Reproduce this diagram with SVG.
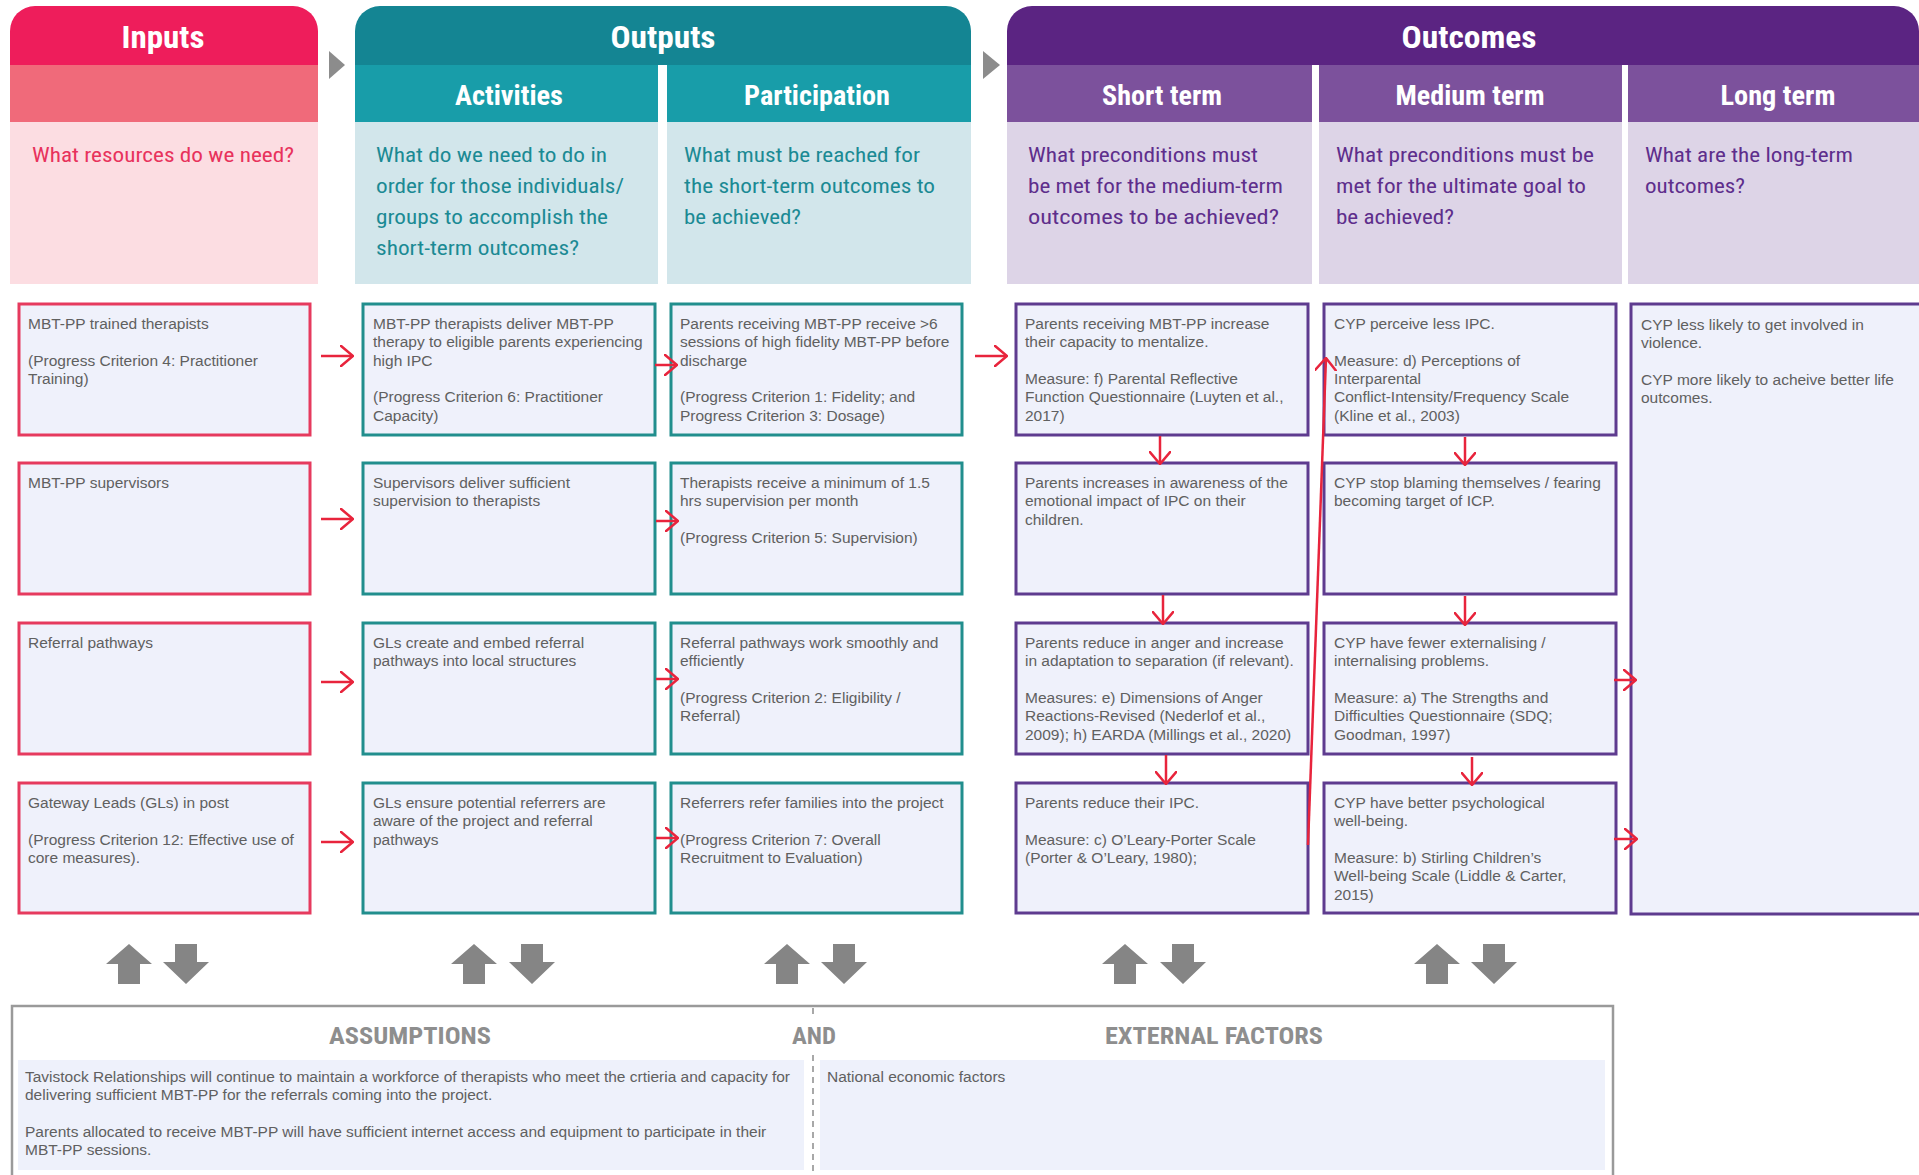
<svg xmlns="http://www.w3.org/2000/svg" width="1919" height="1175" viewBox="0 0 1919 1175">
<defs>
<style>
.title{font-family:"Roboto Condensed",Roboto,"Liberation Sans",sans-serif;font-weight:700;fill:#fff;text-anchor:middle}
.t1{font-size:31px}
.t2{font-size:28px}
.q{font-family:"Roboto Condensed",Roboto,"Liberation Sans",sans-serif;font-size:21px}
.qi{fill:#E8325C}
.qo{fill:#1B8A94}
.qc{fill:#5E2E8C}
.box{fill:#EFF1FB;stroke-width:3}
.bi{stroke:#E63A5E}
.bo{stroke:#218E8D}
.bc{stroke:#5E3B8F}
.nt{font-family:"Liberation Sans",Arial,sans-serif;font-size:15.5px;fill:#606060}
.bt{font-family:"Liberation Sans",Arial,sans-serif;font-size:15.5px;fill:#606060}
.con{fill:none;stroke:#E8243C;stroke-width:2.5}
.blk{fill:#858585}
.sec{font-family:"Roboto Condensed",Roboto,sans-serif;font-weight:700;font-size:24px;fill:#8E8E8E;text-anchor:middle}
.panel{fill:#EEF1FB}
</style>
<marker id="ah" viewBox="0 0 14 22" refX="13" refY="11" markerWidth="14" markerHeight="22" markerUnits="userSpaceOnUse" orient="auto"><path d="M0,0 L13,11 L0,22" fill="none" stroke="#E8243C" stroke-width="2.5"/></marker>
<polygon id="up" class="blk" points="0,0 23,20 11,20 11,40 -11,40 -11,20 -23,20"/>
<polygon id="down" class="blk" points="-11,0 11,0 11,18 23,18 0,40 -23,18 -11,18"/>
</defs>
<rect width="1919" height="1175" fill="#fff"/>

<!-- Header: Inputs -->
<g id="hdr-inputs">
<path d="M10,65 V31 A25,25 0 0 1 35,6 H293 A25,25 0 0 1 318,31 V65 Z" fill="#EE1D5B"/>
<rect x="10" y="65" width="308" height="57" fill="#F06A7A"/>
<rect x="10" y="122" width="308" height="162" fill="#FCDDE2"/>
<text class="title t1" x="163" y="48" textLength="83" lengthAdjust="spacingAndGlyphs">Inputs</text>
<text class="q qi" x="32" y="162" textLength="262" lengthAdjust="spacingAndGlyphs">What resources do we need?</text>
</g>
<polygon points="329,51 345,65 329,79" fill="#8C8C8C"/>

<!-- Header: Outputs -->
<g id="hdr-outputs">
<path d="M355,65 V31 A25,25 0 0 1 380,6 H946 A25,25 0 0 1 971,31 V65 Z" fill="#148593"/>
<rect x="355" y="65" width="303" height="57" fill="#189DA9"/>
<rect x="667" y="65" width="304" height="57" fill="#189DA9"/>
<rect x="355" y="122" width="303" height="162" fill="#D2E6EB"/>
<rect x="667" y="122" width="304" height="162" fill="#D2E6EB"/>
<text class="title t1" x="663" y="48" textLength="105" lengthAdjust="spacingAndGlyphs">Outputs</text>
<text class="title t2" x="509" y="105" textLength="108" lengthAdjust="spacingAndGlyphs">Activities</text>
<text class="title t2" x="817" y="105" textLength="146" lengthAdjust="spacingAndGlyphs">Participation</text>
<text class="q qo" x="376" y="162" textLength="231" lengthAdjust="spacingAndGlyphs">What do we need to do in</text>
<text class="q qo" x="376" y="193" textLength="248" lengthAdjust="spacingAndGlyphs">order for those individuals/</text>
<text class="q qo" x="376" y="224" textLength="232" lengthAdjust="spacingAndGlyphs">groups to accomplish the</text>
<text class="q qo" x="376" y="255" textLength="203" lengthAdjust="spacingAndGlyphs">short-term outcomes?</text>
<text class="q qo" x="684" y="162" textLength="236" lengthAdjust="spacingAndGlyphs">What must be reached for</text>
<text class="q qo" x="684" y="193" textLength="251" lengthAdjust="spacingAndGlyphs">the short-term outcomes to</text>
<text class="q qo" x="684" y="224" textLength="117" lengthAdjust="spacingAndGlyphs">be achieved?</text>
</g>
<polygon points="983,51 1000,65 983,79" fill="#8C8C8C"/>

<!-- Header: Outcomes -->
<g id="hdr-outcomes">
<path d="M1007,65 V31 A25,25 0 0 1 1032,6 H1894 A25,25 0 0 1 1919,31 V65 Z" fill="#5B2482"/>
<rect x="1007" y="65" width="305" height="57" fill="#7C519C"/>
<rect x="1319" y="65" width="303" height="57" fill="#7C519C"/>
<rect x="1628" y="65" width="291" height="57" fill="#7C519C"/>
<rect x="1007" y="122" width="305" height="162" fill="#DDD4E7"/>
<rect x="1319" y="122" width="303" height="162" fill="#DDD4E7"/>
<rect x="1628" y="122" width="291" height="162" fill="#DDD4E7"/>
<text class="title t1" x="1469" y="48" textLength="135" lengthAdjust="spacingAndGlyphs">Outcomes</text>
<text class="title t2" x="1162" y="105" textLength="120" lengthAdjust="spacingAndGlyphs">Short term</text>
<text class="title t2" x="1470" y="105" textLength="149" lengthAdjust="spacingAndGlyphs">Medium term</text>
<text class="title t2" x="1778" y="105" textLength="115" lengthAdjust="spacingAndGlyphs">Long term</text>
<text class="q qc" x="1028" y="162" textLength="230" lengthAdjust="spacingAndGlyphs">What preconditions must</text>
<text class="q qc" x="1028" y="193" textLength="255" lengthAdjust="spacingAndGlyphs">be met for the medium-term</text>
<text class="q qc" x="1028" y="224" textLength="251" lengthAdjust="spacingAndGlyphs">outcomes to be achieved?</text>
<text class="q qc" x="1336" y="162" textLength="258" lengthAdjust="spacingAndGlyphs">What preconditions must be</text>
<text class="q qc" x="1336" y="193" textLength="250" lengthAdjust="spacingAndGlyphs">met for the ultimate goal to</text>
<text class="q qc" x="1336" y="224" textLength="118" lengthAdjust="spacingAndGlyphs">be achieved?</text>
<text class="q qc" x="1645" y="162" textLength="208" lengthAdjust="spacingAndGlyphs">What are the long-term</text>
<text class="q qc" x="1645" y="193" textLength="100" lengthAdjust="spacingAndGlyphs">outcomes?</text>
</g>

<!-- Row 1 -->
<g id="in1"><rect class="box bi" x="19" y="304" width="291" height="131"/>
<text class="nt" x="28" y="329"><tspan x="28">MBT-PP trained therapists</tspan><tspan x="28" dy="36.6">(Progress Criterion 4: Practitioner</tspan><tspan x="28" dy="18.3">Training)</tspan></text></g>
<g id="act1"><rect class="box bo" x="363" y="304" width="292" height="131"/>
<text class="nt" y="329"><tspan x="373">MBT-PP therapists deliver MBT-PP</tspan><tspan x="373" dy="18.3">therapy to eligible parents experiencing</tspan><tspan x="373" dy="18.3">high IPC</tspan><tspan x="373" dy="36.6">(Progress Criterion 6: Practitioner</tspan><tspan x="373" dy="18.3">Capacity)</tspan></text></g>
<g id="par1"><rect class="box bo" x="671" y="304" width="291" height="131"/>
<text class="nt" y="329"><tspan x="680">Parents receiving MBT-PP receive &gt;6</tspan><tspan x="680" dy="18.3">sessions of high fidelity MBT-PP before</tspan><tspan x="680" dy="18.3">discharge</tspan><tspan x="680" dy="36.6">(Progress Criterion 1: Fidelity; and</tspan><tspan x="680" dy="18.3">Progress Criterion 3: Dosage)</tspan></text></g>
<g id="st1"><rect class="box bc" x="1016" y="304" width="292" height="131"/>
<text class="nt" y="329"><tspan x="1025">Parents receiving MBT-PP increase</tspan><tspan x="1025" dy="18.3">their capacity to mentalize.</tspan><tspan x="1025" dy="36.6">Measure: f) Parental Reflective</tspan><tspan x="1025" dy="18.3">Function Questionnaire (Luyten et al.,</tspan><tspan x="1025" dy="18.3">2017)</tspan></text></g>
<g id="mt1"><rect class="box bc" x="1324" y="304" width="292" height="131"/>
<text class="nt" y="329"><tspan x="1334">CYP perceive less IPC.</tspan><tspan x="1334" dy="36.6">Measure: d) Perceptions of</tspan><tspan x="1334" dy="18.3">Interparental</tspan><tspan x="1334" dy="18.3">Conflict-Intensity/Frequency Scale</tspan><tspan x="1334" dy="18.3">(Kline et al., 2003)</tspan></text></g>
<g id="lt1"><rect class="box bc" x="1631" y="304" width="300" height="610"/>
<text class="nt" y="330"><tspan x="1641">CYP less likely to get involved in</tspan><tspan x="1641" dy="18.3">violence.</tspan><tspan x="1641" dy="36.6">CYP more likely to acheive better life</tspan><tspan x="1641" dy="18.3">outcomes.</tspan></text></g>

<!-- Row 2 -->
<g id="in2"><rect class="box bi" x="19" y="463" width="291" height="131"/>
<text class="nt" y="488"><tspan x="28">MBT-PP supervisors</tspan></text></g>
<g id="act2"><rect class="box bo" x="363" y="463" width="292" height="131"/>
<text class="nt" y="488"><tspan x="373">Supervisors deliver sufficient</tspan><tspan x="373" dy="18.3">supervision to therapists</tspan></text></g>
<g id="par2"><rect class="box bo" x="671" y="463" width="291" height="131"/>
<text class="nt" y="488"><tspan x="680">Therapists receive a minimum of 1.5</tspan><tspan x="680" dy="18.3">hrs supervision per month</tspan><tspan x="680" dy="36.6">(Progress Criterion 5: Supervision)</tspan></text></g>
<g id="st2"><rect class="box bc" x="1016" y="463" width="292" height="131"/>
<text class="nt" y="488"><tspan x="1025">Parents increases in awareness of the</tspan><tspan x="1025" dy="18.3">emotional impact of IPC on their</tspan><tspan x="1025" dy="18.3">children.</tspan></text></g>
<g id="mt2"><rect class="box bc" x="1324" y="463" width="292" height="131"/>
<text class="nt" y="488"><tspan x="1334">CYP stop blaming themselves / fearing</tspan><tspan x="1334" dy="18.3">becoming target of ICP.</tspan></text></g>

<!-- Row 3 -->
<g id="in3"><rect class="box bi" x="19" y="623" width="291" height="131"/>
<text class="nt" y="648"><tspan x="28">Referral pathways</tspan></text></g>
<g id="act3"><rect class="box bo" x="363" y="623" width="292" height="131"/>
<text class="nt" y="648"><tspan x="373">GLs create and embed referral</tspan><tspan x="373" dy="18.3">pathways into local structures</tspan></text></g>
<g id="par3"><rect class="box bo" x="671" y="623" width="291" height="131"/>
<text class="nt" y="648"><tspan x="680">Referral pathways work smoothly and</tspan><tspan x="680" dy="18.3">efficiently</tspan><tspan x="680" dy="36.6">(Progress Criterion 2: Eligibility /</tspan><tspan x="680" dy="18.3">Referral)</tspan></text></g>
<g id="st3"><rect class="box bc" x="1016" y="623" width="292" height="131"/>
<text class="nt" y="648"><tspan x="1025">Parents reduce in anger and increase</tspan><tspan x="1025" dy="18.3">in adaptation to separation (if relevant).</tspan><tspan x="1025" dy="36.6">Measures: e) Dimensions of Anger</tspan><tspan x="1025" dy="18.3">Reactions-Revised (Nederlof et al.,</tspan><tspan x="1025" dy="18.3">2009); h) EARDA (Millings et al., 2020)</tspan></text></g>
<g id="mt3"><rect class="box bc" x="1324" y="623" width="292" height="131"/>
<text class="nt" y="648"><tspan x="1334">CYP have fewer externalising /</tspan><tspan x="1334" dy="18.3">internalising problems.</tspan><tspan x="1334" dy="36.6">Measure: a) The Strengths and</tspan><tspan x="1334" dy="18.3">Difficulties Questionnaire (SDQ;</tspan><tspan x="1334" dy="18.3">Goodman, 1997)</tspan></text></g>

<!-- Row 4 -->
<g id="in4"><rect class="box bi" x="19" y="783" width="291" height="130"/>
<text class="nt" y="808"><tspan x="28">Gateway Leads (GLs) in post</tspan><tspan x="28" dy="36.6">(Progress Criterion 12: Effective use of</tspan><tspan x="28" dy="18.3">core measures).</tspan></text></g>
<g id="act4"><rect class="box bo" x="363" y="783" width="292" height="130"/>
<text class="nt" y="808"><tspan x="373">GLs ensure potential referrers are</tspan><tspan x="373" dy="18.3">aware of the project and referral</tspan><tspan x="373" dy="18.3">pathways</tspan></text></g>
<g id="par4"><rect class="box bo" x="671" y="783" width="291" height="130"/>
<text class="nt" y="808"><tspan x="680">Referrers refer families into the project</tspan><tspan x="680" dy="36.6">(Progress Criterion 7: Overall</tspan><tspan x="680" dy="18.3">Recruitment to Evaluation)</tspan></text></g>
<g id="st4"><rect class="box bc" x="1016" y="783" width="292" height="130"/>
<text class="nt" y="808"><tspan x="1025">Parents reduce their IPC.</tspan><tspan x="1025" dy="36.6">Measure: c) O’Leary-Porter Scale</tspan><tspan x="1025" dy="18.3">(Porter &amp; O’Leary, 1980);</tspan></text></g>
<g id="mt4"><rect class="box bc" x="1324" y="783" width="292" height="130"/>
<text class="nt" y="808"><tspan x="1334">CYP have better psychological</tspan><tspan x="1334" dy="18.3">well-being.</tspan><tspan x="1334" dy="36.6">Measure: b) Stirling Children’s</tspan><tspan x="1334" dy="18.3">Well-being Scale (Liddle &amp; Carter,</tspan><tspan x="1334" dy="18.3">2015)</tspan></text></g>

<!-- Connectors -->
<g id="connectors" class="con" marker-end="url(#ah)">
<path d="M321,356 H353"/>
<path d="M321,519 H353"/>
<path d="M321,682 H353"/>
<path d="M321,842 H353"/>
<path d="M655,365 H677"/>
<path d="M656,521 H678"/>
<path d="M656,679 H678"/>
<path d="M656,838 H678"/>
<path d="M975,356 H1007"/>
<path d="M1160,436 V464"/>
<path d="M1163,595 V624"/>
<path d="M1166,755 V784"/>
<path d="M1465,437 V465"/>
<path d="M1465,596 V625"/>
<path d="M1472,757 V785"/>
<path d="M1308,845 L1326,358"/>
<path d="M1614,680 H1636"/>
<path d="M1614,839 H1637"/>
</g>

<!-- Block arrows -->
<g id="updown">
<use href="#up" x="129" y="944"/><use href="#down" x="186" y="944"/>
<use href="#up" x="474" y="944"/><use href="#down" x="532" y="944"/>
<use href="#up" x="787" y="944"/><use href="#down" x="844" y="944"/>
<use href="#up" x="1125" y="944"/><use href="#down" x="1183" y="944"/>
<use href="#up" x="1437" y="944"/><use href="#down" x="1494" y="944"/>
</g>

<!-- Assumptions and external factors -->
<g id="assumptions-box">
<rect x="12" y="1006" width="1601" height="200" fill="#fff" stroke="#9A9A9A" stroke-width="2.5"/>
<path d="M813,1008 V1018 M813,1055 V1175" stroke="#8C8C8C" stroke-width="1.5" stroke-dasharray="6,5" fill="none"/>
<text class="sec" x="410" y="1044" textLength="162" lengthAdjust="spacingAndGlyphs">ASSUMPTIONS</text>
<text class="sec" x="814" y="1044" textLength="44" lengthAdjust="spacingAndGlyphs">AND</text>
<text class="sec" x="1214" y="1044" textLength="218" lengthAdjust="spacingAndGlyphs">EXTERNAL FACTORS</text>
</g>
<g id="assumptions">
<rect class="panel" x="18" y="1060" width="786" height="110"/>
<text class="bt" y="1082"><tspan x="25">Tavistock Relationships will continue to maintain a workforce of therapists who meet the crtieria and capacity for</tspan><tspan x="25" dy="18.3">delivering sufficient MBT-PP for the referrals coming into the project.</tspan><tspan x="25" dy="36.6">Parents allocated to receive MBT-PP will have sufficient internet access and equipment to participate in their</tspan><tspan x="25" dy="18.3">MBT-PP sessions.</tspan></text>
</g>
<g id="external">
<rect class="panel" x="820" y="1060" width="785" height="110"/>
<text class="bt" x="827" y="1082">National economic factors</text>
</g>
</svg>
